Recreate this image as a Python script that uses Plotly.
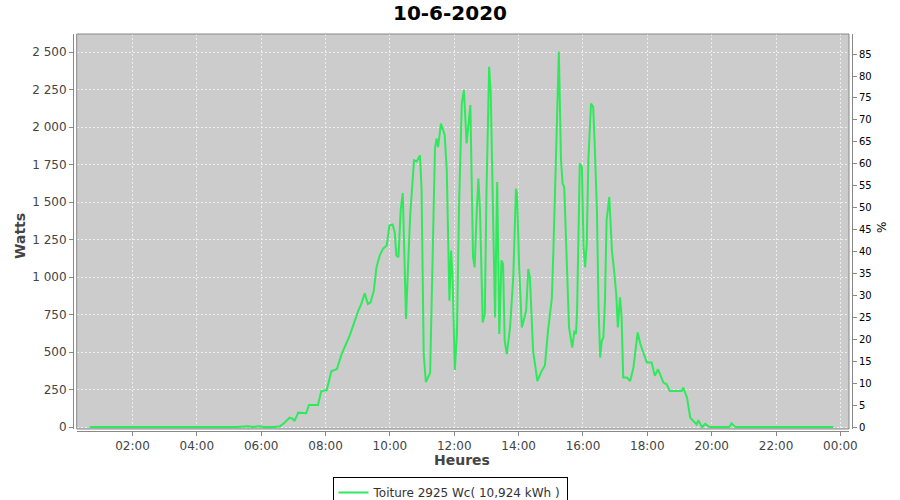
import plotly.graph_objects as go

DAY = "2020-06-10"
TIMES = ["00:40", "01:20", "02:10", "02:50", "03:15", "03:30", "04:20", "05:05", "05:15", "05:35",
         "05:45", "05:55", "06:05", "06:25", "06:35", "06:44", "06:53", "06:59", "07:02", "07:09",
         "07:24", "07:29", "07:46", "07:52", "08:02", "08:11", "08:21", "08:30", "08:42", "08:45",
         "09:01", "09:07", "09:13", "09:19", "09:24", "09:30", "09:35", "09:41", "09:47", "09:54",
         "09:59", "10:05", "10:09", "10:12", "10:16", "10:20", "10:24", "10:26", "10:30", "10:34",
         "10:38", "10:45", "10:50", "10:56", "10:59", "11:03", "11:07", "11:15", "11:18", "11:24",
         "11:27", "11:30", "11:35", "11:42", "11:46", "11:49", "11:51", "11:54", "11:57", "12:01",
         "12:05", "12:09", "12:14", "12:18", "12:23", "12:26", "12:30", "12:35", "12:38", "12:42",
         "12:45", "12:48", "12:53", "12:57", "13:00", "13:05", "13:08", "13:16", "13:20", "13:24",
         "13:28", "13:31", "13:34", "13:38", "13:44", "13:50", "13:55", "13:57", "14:01", "14:06",
         "14:09", "14:14", "14:18", "14:21", "14:27", "14:35", "14:43", "14:49", "14:55", "15:02",
         "15:05", "15:10", "15:15", "15:19", "15:22", "15:25", "15:30", "15:34", "15:40", "15:44",
         "15:47", "15:49", "15:54", "15:58", "16:01", "16:04", "16:07", "16:10", "16:15", "16:19",
         "16:22", "16:26", "16:29", "16:32", "16:35", "16:38", "16:41", "16:44", "16:49", "16:54",
         "16:58", "17:02", "17:05", "17:09", "17:12", "17:15", "17:22", "17:28", "17:34", "17:42",
         "17:47", "17:53", "17:59", "18:08", "18:14", "18:20", "18:30", "18:36", "18:42", "19:04",
         "19:07", "19:14", "19:20", "19:32", "19:35", "19:42", "19:48", "19:54", "19:57", "20:33",
         "20:37", "20:44", "21:30", "22:30", "23:47"]
WATTS = [0, 0, 0, 0, 4, 0, 0, 5, 0, 6,
         0, 6, 0, 0, 5, 30, 62, 55, 40, 96,
         92, 147, 147, 240, 245, 374, 385, 486, 593, 610,
         775, 824, 891, 820, 831, 909, 1065, 1143, 1188, 1210,
         1343, 1350, 1299, 1143, 1132, 1444, 1560, 1332, 720, 1087,
         1422, 1778, 1770, 1811, 1590, 486, 300, 360, 887, 1856,
         1923, 1867, 2023, 1950, 1711, 1154, 842, 1176, 976, 380,
         620, 1489, 2157, 2246, 1890, 2001, 2146, 1132, 1065, 1444,
         1656, 1444, 697, 753, 1555, 2402, 2224, 731, 1633, 620,
         1110, 1087, 575, 486, 664, 998, 1589, 1555, 1065, 664,
         709, 775, 1054, 998, 508, 307, 374, 410, 650, 860,
         1198, 1778, 2502, 1778, 1622, 1600, 1110, 664, 530, 642,
         620, 775, 1756, 1733, 1198, 1065, 1221, 1778, 2157, 2134,
         1867, 1444, 798, 463, 575, 597, 842, 1377, 1533, 1176,
         1043, 887, 664, 864, 731, 330, 330, 307, 396, 631,
         553, 486, 430, 430, 341, 385, 296, 285, 240, 240,
         263, 196, 62, 18, 45, 0, 22, 5, 0, 0,
         25, 0, 0, 0, 0]

PEAK_WC = 2925
SERIES_NAME = "Toiture 2925 Wc( 10,924 kWh )"
TITLE = "10-6-2020"
X_TITLE = "Heures"
Y_TITLE = "Watts"
Y2_TITLE = "%"

x = [f"{DAY} {t}" for t in TIMES]
pct = [w / PEAK_WC * 100 for w in WATTS]

GREEN = "#2EEA5A"
AXIS_GREY = "#888888"
FONT = "DejaVu Sans"

fig = go.Figure()
fig.add_trace(go.Scatter(x=x, y=WATTS, mode="lines", name=SERIES_NAME,
                         line=dict(color=GREEN, width=2)))
fig.add_trace(go.Scatter(x=x, y=pct, mode="lines", yaxis="y2", showlegend=False,
                         hoverinfo="skip", line=dict(color="rgba(0,0,0,0)", width=0)))

y_lo, y_hi = -13, 2620
fig.update_layout(
    width=900, height=500, autosize=False,
    paper_bgcolor="white", plot_bgcolor="#cccccc",
    font=dict(family=FONT, size=12, color="#444444"),
    separators=", ",
    margin=dict(l=73, r=48, t=34, b=69),
    title=dict(text=f"<b>{TITLE}</b>", x=0.5, xref="container", xanchor="center",
               y=1 - 13 / 500, yref="container", yanchor="middle",
               font=dict(family=FONT, size=20, color="black")),
    xaxis=dict(type="date", domain=[3.7 / 779, 776 / 779], anchor="free", position=0,
               range=[f"{DAY} 00:16", "2020-06-11 00:16"],
               tick0=f"{DAY} 00:00", dtick=7200000, tickformat="%H:%M",
               showline=True, linecolor=AXIS_GREY, linewidth=1,
               ticks="outside", ticklen=4, tickcolor=AXIS_GREY,
               showgrid=True, gridcolor="#eeeeee", griddash="2px,2px", gridwidth=1,
               zeroline=False, tickfont=dict(size=12, color="#444444")),
    yaxis=dict(domain=[2 / 397, 1], anchor="free", position=0,
               range=[y_lo, y_hi], dtick=250, tick0=0, separatethousands=True,
               showline=True, linecolor=AXIS_GREY, linewidth=1,
               ticks="outside", ticklen=4, tickcolor=AXIS_GREY,
               showgrid=True, gridcolor="#eeeeee", griddash="2px,2px", gridwidth=1,
               zeroline=False, tickfont=dict(size=12, color="#444444")),
    yaxis2=dict(overlaying="y", side="right", anchor="free", position=1,
                range=[y_lo / PEAK_WC * 100, y_hi / PEAK_WC * 100], dtick=5, tick0=0,
                showline=True, linecolor=AXIS_GREY, linewidth=1,
                ticks="outside", ticklen=4, tickcolor=AXIS_GREY,
                showgrid=False, zeroline=False, tickfont=dict(size=10, color="black")),
    legend=dict(orientation="h", xref="container", yref="container", x=0.5, xanchor="center",
                y=1 - 477 / 500, yanchor="top", bgcolor="white", bordercolor="black",
                borderwidth=1, font=dict(family=FONT, size=12, color="#333333"),
                itemwidth=30),
    showlegend=True,
    shapes=[dict(type="rect", xref="x domain", yref="y domain", x0=0, x1=1, y0=0, y1=1,
                 line=dict(color=AXIS_GREY, width=1), fillcolor="rgba(0,0,0,0)", layer="above")],
    annotations=[
        dict(text=f"<b>{Y_TITLE}</b>", xref="paper", yref="paper", x=(20 - 73) / 779,
             y=(431 - 236) / 397, showarrow=False, textangle=-90,
             font=dict(family=FONT, size=14, color="#444444"), xanchor="center", yanchor="middle"),
        dict(text=f"<b>{X_TITLE}</b>", xref="paper", yref="paper", x=(462 - 73) / 779,
             y=(431 - 460) / 397, showarrow=False,
             font=dict(family=FONT, size=14, color="#444444"), xanchor="center", yanchor="middle"),
        dict(text=Y2_TITLE, xref="paper", yref="paper", x=(882 - 73) / 779,
             y=(431 - 228) / 397, showarrow=False, textangle=-90,
             font=dict(family=FONT, size=12, color="black"), xanchor="center", yanchor="middle"),
    ],
)

fig.write_html("out.html", config={"displayModeBar": False},
               post_script="document.body.style.margin='0';document.body.style.overflow='hidden';")
